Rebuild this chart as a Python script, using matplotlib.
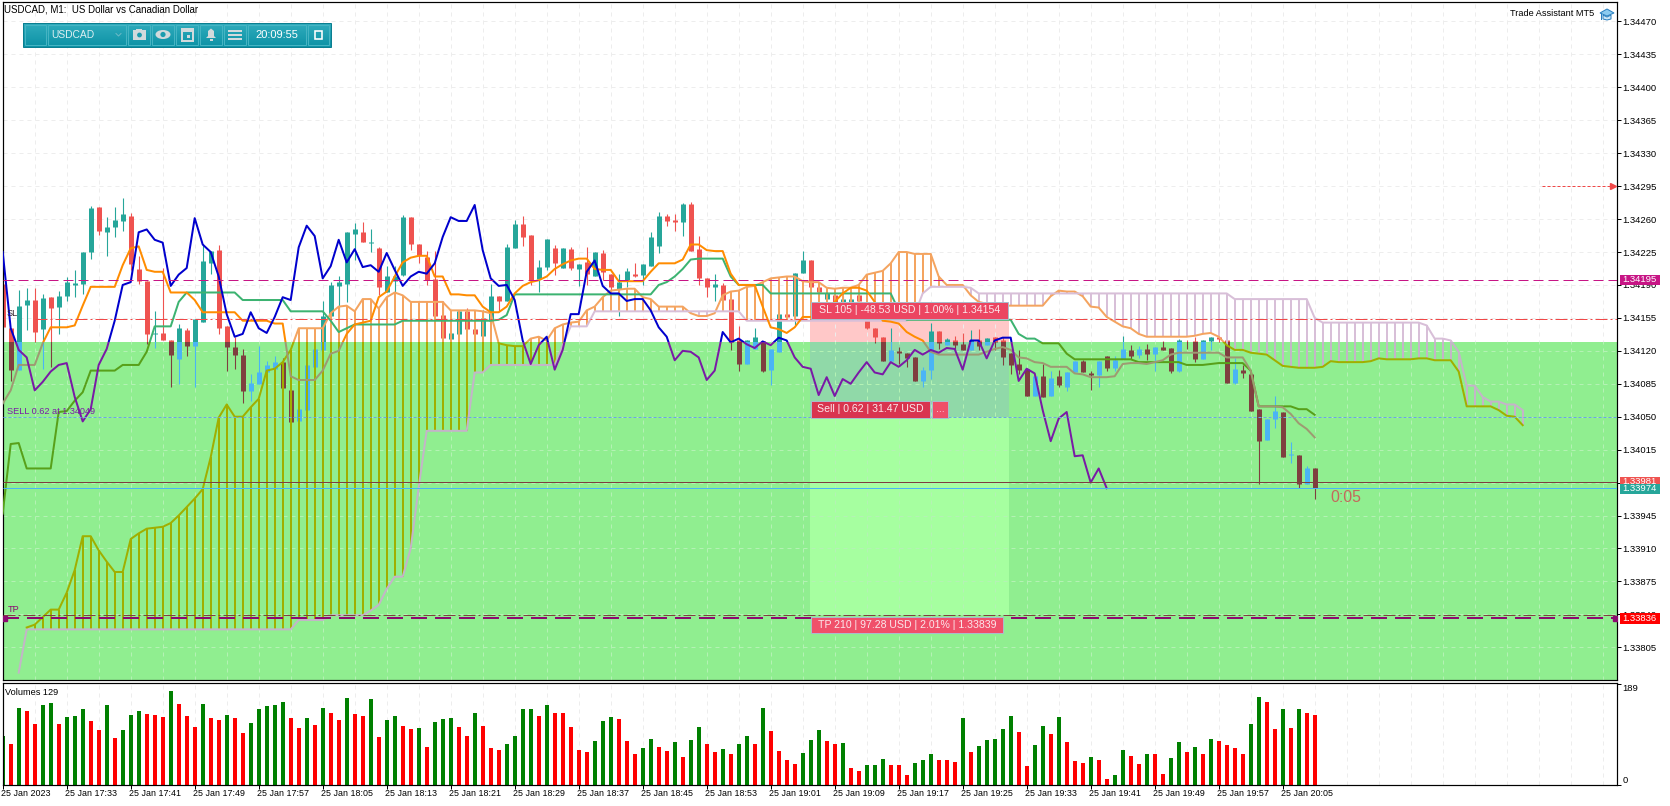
# -*- coding: utf-8 -*-
"""USDCAD M1 terminal screenshot: candles, Ichimoku, trade zones, volumes."""

import numpy as np
import matplotlib
matplotlib.use('Agg')
import matplotlib.pyplot as plt
from matplotlib.patches import Rectangle, Polygon, Ellipse, Circle
from matplotlib.transforms import ScaledTranslation

plt.rcParams['font.family'] = ['Liberation Sans', 'DejaVu Sans']

# All prices below are points above 1.34000 (1 point = 0.00001)
open_pts = [191, 144, 100, 169, 174, 143, 177, 167, 178, 190,
            191, 225, 273, 246, 252, 258, 263, 207, 194, 138,
            139, 132, 111, 142, 125, 151, 213, 227, 146, 124,
            116, 77, 85, 97, 101, 108, 78, 45, 57, 103,
            121, 157, 189, 191, 244, 246, 235, 229, 183, 194,
            201, 262, 233, 220, 196, 158, 133, 138, 162, 143,
            136, 152, 178, 173, 229, 255, 243, 196, 209, 229,
            208, 228, 207, 214, 200, 224, 202, 186, 195, 202,
            201, 210, 231, 263, 259, 257, 276, 228, 197, 188,
            190, 175, 131, 106, 122, 130, 100, 119, 159, 157,
            203, 217, 188, 175, 179, 172, 171, 179, 154, 144,
            135, 109, 120, 118, 113, 88, 100, 141, 126, 132,
            127, 121, 131, 126, 135, 131, 118, 106, 101, 72,
            93, 72, 93, 82, 97, 109, 96, 94, 114, 102,
            111, 121, 116, 122, 117, 124, 123, 99, 132, 130,
            111, 130, 135, 132, 86, 100, 95, 58, 25, 48,
            55, 9, 9, -22, -4]
high_pts = [191, 144, 185, 187, 187, 180, 177, 184, 198, 206,
            225, 274, 273, 262, 273, 282, 266, 221, 194, 162,
            208, 132, 149, 144, 154, 233, 226, 232, 146, 135,
            122, 95, 125, 109, 115, 112, 78, 58, 105, 122,
            173, 193, 200, 246, 256, 257, 249, 230, 210, 210,
            264, 262, 233, 226, 226, 173, 139, 162, 165, 143,
            163, 191, 178, 233, 259, 263, 243, 216, 239, 232,
            229, 230, 212, 230, 225, 227, 202, 202, 208, 213,
            212, 246, 268, 265, 265, 277, 278, 242, 197, 202,
            192, 175, 146, 131, 144, 130, 122, 159, 159, 203,
            226, 217, 188, 181, 179, 178, 176, 180, 154, 144,
            135, 144, 124, 118, 113, 103, 150, 141, 134, 136,
            139, 142, 143, 134, 135, 135, 118, 121, 101, 93,
            106, 99, 100, 97, 109, 110, 99, 109, 114, 114,
            136, 126, 125, 127, 124, 130, 123, 133, 132, 135,
            132, 135, 135, 132, 112, 105, 95, 58, 48, 72,
            55, 23, 9, -2, -4]
low_pts = [145, 88, 100, 142, 129, 101, 103, 138, 173, 177,
           180, 218, 243, 221, 241, 247, 206, 191, 127, 123,
           131, 82, 85, 114, 82, 151, 202, 138, 99, 101,
           65, 67, 85, 97, 100, 80, 44, 45, 57, 103,
           121, 157, 157, 172, 216, 236, 225, 179, 183, 183,
           199, 227, 213, 190, 157, 134, 133, 138, 142, 138,
           136, 152, 162, 173, 229, 231, 190, 182, 206, 201,
           208, 206, 189, 190, 200, 195, 182, 157, 188, 198,
           190, 210, 224, 253, 247, 242, 226, 190, 177, 173,
           174, 121, 99, 106, 122, 98, 84, 119, 156, 147,
           203, 188, 179, 175, 172, 172, 171, 173, 143, 128,
           109, 109, 106, 103, 88, 82, 90, 122, 126, 121,
           121, 121, 121, 126, 121, 105, 95, 95, 72, 72,
           71, 72, 82, 77, 97, 97, 78, 82, 99, 99,
           111, 111, 112, 110, 99, 121, 96, 98, 122, 108,
           111, 121, 129, 86, 85, 91, 56, -21, 25, 38,
           7, 1, -26, -22, -37]
close_pts = [145, 100, 168, 174, 140, 176, 165, 178, 193, 192,
             225, 272, 247, 252, 259, 265, 212, 194, 138, 139,
             131, 116, 144, 125, 154, 215, 226, 144, 124, 116,
             77, 86, 97, 105, 108, 80, 44, 58, 105, 122,
             157, 190, 193, 246, 249, 236, 236, 188, 200, 200,
             262, 233, 222, 195, 157, 134, 139, 162, 143, 138,
             155, 178, 173, 230, 255, 241, 195, 209, 239, 213,
             229, 208, 212, 202, 225, 204, 188, 193, 205, 200,
             212, 241, 263, 258, 257, 276, 226, 197, 188, 191,
             174, 129, 106, 131, 135, 99, 122, 159, 156, 203,
             217, 188, 182, 181, 172, 175, 175, 173, 144, 135,
             109, 121, 118, 112, 88, 100, 141, 128, 133, 126,
             121, 131, 125, 134, 129, 113, 105, 100, 72, 93,
             71, 91, 84, 97, 109, 97, 94, 109, 102, 110,
             122, 115, 122, 117, 124, 121, 99, 132, 131, 111,
             132, 135, 133, 86, 101, 96, 56, 24, 48, 56,
             7, 10, -21, -4, -26]

tenkan_pts = [64, 78, 105, 105, 105, 128, 145, 145, 145, 147,
              168, 188, 188, 188, 188, 211, 229, 231, 206, 204,
              204, 182, 182, 182, 174, 161, 161, 161, 161, 161,
              152, 152, 152, 152, 149, 149, 93, 89, 89, 89,
              99, 117, 120, 138, 148, 150, 152, 177, 183, 199,
              214, 219, 221, 221, 199, 199, 180, 180, 179, 179,
              167, 161, 161, 167, 181, 189, 193, 195, 199, 207,
              212, 216, 218, 218, 207, 206, 206, 194, 194, 194,
              194, 204, 213, 213, 213, 217, 233, 233, 227, 226,
              226, 202, 190, 190, 190, 167, 145, 143, 139, 145,
              156, 156, 156, 156, 172, 181, 187, 187, 184, 172,
              152, 151, 149, 140, 135, 131, 119, 116, 116, 116,
              116, 116, 116, 119, 122, 124, 121, 113, 112, 108,
              107, 103, 103, 103, 96, 95, 92, 92, 92, 93,
              106, 107, 107, 106, 108, 110, 116, 118, 118, 118,
              118, 118, 118, 113, 113, 113, 99, 61, 61, 61,
              60, 53, 43, 37, 28]
kijun_pts = [-53, 21, 22, -5, -5, -5, -5, 55, 56, 67,
             76, 99, 99, 99, 99, 105, 105, 105, 119, 146,
             146, 146, 172, 182, 182, 182, 182, 182, 182, 182,
             174, 174, 174, 174, 174, 174, 162, 162, 162, 162,
             162, 152, 140, 144, 148, 148, 148, 148, 148, 148,
             152, 152, 152, 152, 152, 152, 152, 152, 152, 152,
             152, 152, 153, 158, 180, 180, 180, 180, 180, 180,
             180, 180, 180, 180, 180, 180, 180, 180, 180, 180,
             180, 180, 190, 193, 199, 207, 217, 218, 218, 218,
             218, 199, 190, 190, 190, 190, 181, 181, 181, 181,
             181, 181, 181, 181, 181, 181, 181, 181, 181, 181,
             181, 181, 163, 153, 153, 153, 153, 153, 153, 153,
             153, 153, 153, 153, 153, 153, 153, 138, 133, 133,
             128, 128, 128, 117, 111, 111, 111, 111, 111, 111,
             111, 111, 108, 108, 108, 108, 108, 108, 105, 105,
             105, 106, 107, 107, 107, 107, 99, 61, 61, 61,
             61, 61, 58, 58, 52]
chikou_pts = [225, 144, 121, 113, 78, 87, 98, 105, 107, 71,
              45, 58, 105, 122, 152, 190, 193, 246, 249, 238,
              235, 189, 201, 208, 261, 233, 225, 199, 159, 135,
              138, 161, 144, 139, 156, 177, 174, 230, 253, 242,
              197, 210, 238, 214, 228, 209, 211, 204, 224, 206,
              189, 199, 204, 202, 213, 241, 262, 258, 258, 275,
              227, 197, 189, 190, 174, 131, 106, 126, 135, 100,
              121, 159, 159, 204, 216, 189, 181, 181, 173, 175,
              175, 163, 145, 135, 110, 120, 119, 113, 89, 99,
              140, 129, 133, 127, 123, 130, 126, 134, 131, 113,
              103, 101, 73, 92, 72, 90, 85, 97, 108, 97,
              95, 108, 103, 110, 121, 116, 121, 118, 123, 122,
              100, 131, 131, 112, 131, 134, 134, 88, 101, 96,
              57, 24, 48, 55, 8, 9, -20, -5, -26]
# Senkou span A starts at bar 3, span B at bar 2; both run 26 bars past the last candle
span_a_pts = [-174, -171, -163, -155, -155, -137, -113,
              -77, -77, -92, -104, -115, -115, -80, -74, -69, -68,
              -67, -63, -55, -46, -37, -27, 7, 49, 63, 50,
              50, 60, 69, 99, 101, 108, 121, 144, 144, 144,
              144, 160, 167, 168, 162, 175, 175, 165, 177, 182,
              179, 172, 172, 172, 172, 172, 163, 163, 163, 163,
              162, 160, 128, 126, 125, 125, 133, 135, 131, 144,
              148, 150, 151, 163, 167, 177, 184, 185, 186, 186,
              177, 175, 167, 167, 167, 167, 160, 157, 157, 160,
              179, 183, 184, 188, 189, 193, 197, 198, 199, 199,
              194, 193, 193, 187, 186, 187, 187, 190, 201, 203,
              205, 213, 225, 225, 223, 223, 223, 199, 190, 190,
              190, 179, 172, 170, 168, 168, 168, 168, 168, 168,
              168, 178, 184, 183, 183, 178, 167, 166, 156, 151,
              146, 144, 138, 135, 135, 135, 135, 135, 135, 136,
              138, 139, 135, 126, 121, 121, 118, 117, 116, 110,
              104, 103, 102, 102, 102, 103, 109, 108, 108, 108,
              108, 109, 112, 111, 111, 111, 111, 112, 112, 110,
              110, 110, 98, 61, 61, 61, 61, 57, 51, 50, 41]
span_b_pts = ([-222] + [-176] * 34 + [-166] * 4 + [-161] * 5
              + [-156, -150, -133, -120, -120, -90, -25]
              + [35] * 6 + [97, 97] + [105] * 9 + [126] + [146] * 3
              + [162] * 19 + [152] * 21 + [159, 181] + [188] * 5 + [187]
              + [181] * 32 + [175] * 10 + [155] + [150] * 13
              + [147, 133, 133, 131, 119, 83, 83, 71, 66, 66, 63, 63, 57])

volumes = [92, 77, 144, 139, 114, 150, 154, 114, 127, 129,
           142, 120, 103, 150, 88, 103, 131, 139, 133, 131,
           127, 176, 152, 129, 109, 152, 126, 122, 131, 126,
           98, 116, 142, 148, 150, 155, 126, 107, 126, 113,
           144, 135, 122, 163, 133, 129, 161, 90, 122, 129,
           111, 105, 107, 71, 118, 124, 126, 109, 92, 135,
           111, 70, 66, 77, 92, 142, 142, 129, 150, 135,
           135, 109, 66, 62, 83, 120, 127, 124, 83, 58,
           70, 86, 71, 64, 81, 53, 85, 109,
           77, 62, 68, 58, 77, 92, 77, 144, 101, 64,
           47, 40, 60, 85, 103, 83, 77, 79, 32, 27,
           38, 38, 49, 38, 38, 19, 42, 47, 58, 47,
           47, 44, 126, 62, 73, 85, 86, 105, 129, 99,
           36, 75, 111, 96, 127, 81, 45, 42, 53, 47,
           12, 19, 66, 55, 40, 58, 58, 21, 51, 81,
           62, 71, 58, 86, 83, 75, 70, 58, 114, 165,
           155, 105, 142, 107, 142, 135, 131]
volume_dirs = ('GRGRRGGRGG' 'GRRGRGGGRR' 'RGRRRGRRGR' 'RGGGGGRRGR' 'GRRGRRGRGG'
               'RRGRGGGRRG' 'RRRGGGGRGR' 'RRRRGGGRRR' 'GGRRGRGG'
               'RRGRGGRGRR' 'RRGGGRRGRR' 'GGGRRRGGGR' 'RRGRGGGGGR' 'RGGRGRRRGR'
               'RGGRRGRRGG' 'RGRGRRRRGG' 'RRGRGRR')

price_ticks = [470, 435, 400, 365, 330, 295, 260, 225, 190, 155, 120, 85, 50, 15,
               -20, -55, -90, -125, -160, -195]
date_labels = ['25 Jan 2023', '25 Jan 17:33', '25 Jan 17:41', '25 Jan 17:49', '25 Jan 17:57',
               '25 Jan 18:05', '25 Jan 18:13', '25 Jan 18:21', '25 Jan 18:29', '25 Jan 18:37',
               '25 Jan 18:45', '25 Jan 18:53', '25 Jan 19:01', '25 Jan 19:09', '25 Jan 19:17',
               '25 Jan 19:25', '25 Jan 19:33', '25 Jan 19:41', '25 Jan 19:49', '25 Jan 19:57',
               '25 Jan 20:05']

# trade levels, points above 1.34000
zone_top_pts = 129
entry_pts = 50
sl_pts = 154
tp_pts = -161
tp_line_pts = -164
magenta_pts = 195
ask_pts = -19
bid_pts = -26
alert_pts = 295

# colours: normal one, and the one it turns into under the green rectangle
RED, RED_G = '#EF5350', '#7F3F3F'
TEAL, TEAL_G = '#26A69A', '#4AB4F5'
ORANGE, ORANGE_G = '#FF8C00', '#9E9A72'
SEA, SEA_G = '#3CB371', '#58A01A'
BLUE, BLUE_G = '#0000CD', '#7A1AA6'
SANDY, SANDY_G = '#F4A460', '#A0AF00'
THISTLE, THISTLE_G = '#D8BFD8', '#C4B4C8'
GRID, GRID_G = '#EDEDED', '#B4F2B4'
PX = 0.72  # 1 pixel in points at dpi 100


def pts2price(v):
    return 1.34 + np.asarray(v, dtype=float) * 1e-5


W, H = 1670, 806
fig = plt.figure(figsize=(W / 100, H / 100), dpi=100)
ax = fig.add_axes([2.5 / W, 1 - 680 / H, (1617 - 2.5) / W, (680 - 2) / H])
vax = fig.add_axes([2.5 / W, 1 - 785.3 / H, (1617 - 2.5) / W, (785.3 - 682.7) / H])

XMIN, XMAX = -0.025, 201.79
YMIN, YMAX = 1.337702, 1.344907
ax.set_xlim(XMIN, XMAX)
ax.set_ylim(YMIN, YMAX)
zone_top = pts2price(zone_top_pts)

clip_up = Rectangle((XMIN, zone_top), XMAX - XMIN, YMAX - zone_top, transform=ax.transData)
clip_low = Rectangle((XMIN, YMIN), XMAX - XMIN, zone_top - YMIN, transform=ax.transData)


def two_tone(draw, color_up, color_low):
    # draw once per colour, each one clipped to its side of the green rectangle edge
    for color, clip in ((color_up, clip_up), (color_low, clip_low)):
        art = draw(color)
        for a in (art if isinstance(art, list) else [art]):
            a.set_clip_path(clip)


def level(y, x0=XMIN, x1=XMAX, **kw):
    # 1 px level lines, snapped so they stay crisp
    coll = ax.hlines(pts2price(y), x0, x1, **kw)
    coll.set_snap(True)
    return coll


# ---- background zones ----
ax.add_patch(Rectangle((XMIN, YMIN), XMAX - XMIN, zone_top - YMIN, color='#90EE90', lw=0, zorder=0.5))
t0, t1 = 100.9, 125.8
entry, sl, tp = pts2price(entry_pts), pts2price(sl_pts), pts2price(-161)
ax.add_patch(Rectangle((t0, zone_top), t1 - t0, sl - zone_top, color='#FFC8C8', lw=0, zorder=0.6))
ax.add_patch(Rectangle((t0, entry), t1 - t0, zone_top - entry, color='#90D9A8', lw=0, zorder=0.6))
ax.add_patch(Rectangle((t0, tp), t1 - t0, entry - tp, color='#A6FFA0', lw=0, zorder=0.6))

# ---- grid ----
grid_x = np.arange(0, 202, 4)
grid_y = pts2price(price_ticks)
dash = (0, (4, 4))
two_tone(lambda c: ax.vlines(grid_x, YMIN, YMAX, colors=c, lw=PX, linestyles=[dash], zorder=1), GRID, GRID_G)
two_tone(lambda c: ax.hlines(grid_y, XMIN, XMAX, colors=c, lw=PX, linestyles=[dash], zorder=1), GRID, GRID_G)

# ---- candles ----
x = np.arange(len(open_pts))
o, h, l, c = map(pts2price, (open_pts, high_pts, low_pts, close_pts))
up = c >= o
for mask, col, col_g in ((up, TEAL, TEAL_G), (~up, RED, RED_G)):
    two_tone(lambda k: ax.vlines(x[mask], l[mask], h[mask], colors=k, lw=PX * 1.1, zorder=2), col, col_g)
    two_tone(lambda k: ax.vlines(x[mask], np.minimum(o, c)[mask], np.maximum(o, c)[mask],
                                 colors=k, lw=PX * 5, zorder=2.1, capstyle='butt'), col, col_g)

# ---- ichimoku ----
span_a = pts2price(span_a_pts)
span_b = pts2price(span_b_pts)
xa = np.arange(3, 3 + len(span_a))
xb = np.arange(2, 2 + len(span_b))
b_on_a = span_b[1:]  # span B from bar 3 onwards, same bars as span A
above = span_a >= b_on_a
two_tone(lambda k: ax.vlines(xa[above], b_on_a[above], span_a[above], colors=k, lw=PX * 2, zorder=3,
                             capstyle='butt'), SANDY, SANDY_G)
two_tone(lambda k: ax.vlines(xa[~above], span_a[~above], b_on_a[~above], colors=k, lw=PX * 2, zorder=3,
                             capstyle='butt'), THISTLE, THISTLE_G)


def draw_line(xs, ys, col, col_g, z):
    two_tone(lambda k: ax.plot(xs, ys, color=k, lw=PX * 2, zorder=z, solid_joinstyle='round'), col, col_g)


draw_line(xa, span_a, SANDY, SANDY_G, 3.1)
draw_line(xb, span_b, THISTLE, THISTLE_G, 3.1)
draw_line(x, pts2price(tenkan_pts), ORANGE, ORANGE_G, 3.4)
draw_line(x, pts2price(kijun_pts), SEA, SEA_G, 3.3)
draw_line(np.arange(len(chikou_pts)), pts2price(chikou_pts), BLUE, BLUE_G, 3.5)

# ---- level lines ----
level(magenta_pts, colors='#C71585', lw=PX, linestyles=[(0, (10, 5))], zorder=4)
level(sl_pts, x0=4, colors='#F04848', lw=PX, linestyles=[(0, (12, 3, 2, 3))], zorder=4)
level(entry_pts, colors='#6AA5E5', lw=PX, linestyles=[(0, (3, 2))], zorder=4)
level(ask_pts, colors=RED_G, lw=PX, zorder=4)
level(bid_pts, colors=TEAL_G, lw=PX, zorder=4)
level(tp_pts, colors=RED_G, lw=PX, linestyles=[(0, (12, 3, 2, 3))], zorder=4)
level(tp_line_pts, colors='#8B0A70', lw=PX * 2, linestyles=[(0, (8, 4))], zorder=4.1)
ax.plot([192.4, 201.4], [pts2price(alert_pts)] * 2, color='#F04848', lw=PX, ls=(0, (3, 2)), zorder=4)
ax.plot([201.3], [pts2price(alert_pts)], marker='>', ms=4.5, color='#F04848', zorder=4)
ax.plot([0.15, 201.6], [pts2price(tp_line_pts)] * 2, ls='', marker='s', ms=3.6, color='#8B0A70', zorder=4.2)

# ---- axes furniture ----
ax.set_xticks([])
ax.yaxis.tick_right()
ax.set_yticks(grid_y)
ax.set_yticklabels(['%.5f' % v for v in grid_y])
ax.tick_params(axis='y', length=3, width=PX, pad=1, labelsize=6.8, colors='black')
for s in ax.spines.values():
    s.set_linewidth(PX * 1.2)

# ---- volume panel ----
vax.set_xlim(XMIN, XMAX)
vax.set_ylim(0, 191.5)
vol_x = np.arange(len(volumes))
vol_col = ['#008000' if d == 'G' else '#FF0000' for d in volume_dirs]
vax.vlines(grid_x, 0, 191.5, colors=GRID, lw=PX, linestyles=[dash], zorder=0.5)
vax.bar(vol_x, volumes, width=0.5, color=vol_col, lw=0, zorder=2)
vax.yaxis.tick_right()
vax.set_yticks([0, 189])
vax.set_yticklabels(['0', '189'])
vax.get_yticklabels()[1].set_verticalalignment('top')
vax.get_yticklabels()[0].set_verticalalignment('bottom')
date_x = np.arange(len(date_labels)) * 8
vax.set_xticks(date_x)
vax.set_xticklabels(date_labels, ha='left')
vax.tick_params(axis='y', length=3, width=PX, pad=1, labelsize=6.8)
vax.tick_params(axis='x', length=3, width=PX, pad=1, labelsize=6.4)
nudge = ScaledTranslation(-2 / 100, 1.5 / 100, fig.dpi_scale_trans)
for lab in vax.get_xticklabels():
    lab.set_transform(lab.get_transform() + nudge)
for s in vax.spines.values():
    s.set_linewidth(PX * 1.2)

# ---- overlay in pixel coordinates: labels, toolbar, icons ----
ov = fig.add_axes([0, 0, 1, 1], facecolor='none')
ov.set_xlim(0, W)
ov.set_ylim(H, 0)
ov.axis('off')


def price_box(y, text, col):
    ov.add_patch(Rectangle((1620, y - 5), 39.5, 10.5, color=col, lw=0))
    ov.text(1639.5, y + 0.2, text, color='white', fontsize=6.8, ha='center', va='center')


price_box(279.5, '1.34195', '#C71585')
price_box(481.5, '1.33981', RED)
price_box(488.5, '1.33974', TEAL)
price_box(618, '1.33836', '#FF0000')


def trade_label(x0, y0, x1, y1, text, col, fs=7.6):
    ov.add_patch(Rectangle((x0, y0), x1 - x0, y1 - y0, facecolor=col, edgecolor='#A9BCCB', lw=PX))
    ov.text((x0 + x1) / 2, (y0 + y1) / 2 + 0.2, text, color='#FBE8EC', fontsize=fs, ha='center', va='center')


trade_label(810.5, 301.5, 1008, 318.5, 'SL 105 | -48.53 USD | 1.00% | 1.34154', '#EC4561')
trade_label(811, 401, 930, 417.5, 'Sell | 0.62 | 31.47 USD', '#D9344F')
trade_label(932, 401, 948, 417.5, '...', '#EF4E68')
trade_label(810.5, 616.5, 1003, 633, 'TP 210 | 97.28 USD | 2.01% | 1.33839', '#F0506A')

ov.text(4.5, 9.5, 'USDCAD, M1:  US Dollar vs Canadian Dollar', fontsize=7, va='center')
ov.text(1594, 14, 'Trade Assistant MT5', fontsize=6.6, ha='right', va='center')
ov.text(7, 313, 'SL', fontsize=6.6, va='center', color='#30202a', clip_on=False)
ov.text(7, 411.5, 'SELL 0.62 at 1.34049', fontsize=6.6, va='center', color='#7A1AA6')
ov.text(8, 609.5, 'TP', fontsize=6.6, va='center', color='#8B0A70')
ov.text(5, 692.5, 'Volumes 129', fontsize=6.6, va='center')
ov.text(1330, 497, '0:05', fontsize=11.4, va='center', color='#C4685C')

# graduation cap
ov.add_patch(Polygon([(1600, 13), (1607, 9), (1614, 13), (1607, 16)], facecolor='#8CCBF0', edgecolor='#2A7FBF', lw=PX))
ov.add_patch(Polygon([(1603, 15), (1603, 19), (1607, 20), (1611, 19), (1611, 15), (1607, 17)],
                     facecolor='#CFE8F8', edgecolor='#2A7FBF', lw=PX))
ov.plot([1601, 1601], [13, 19], color='#2A7FBF', lw=PX)

# toolbar
grad = np.linspace(0, 1, 24)[:, None, None] * (np.array([13, 146, 165]) - np.array([48, 172, 188])) + np.array([48, 172, 188])
ov.imshow(grad.astype(np.uint8), extent=(23, 331, 47, 23), aspect='auto', zorder=5)
ov.set_xlim(0, W)
ov.set_ylim(H, 0)
ov.add_patch(Rectangle((23, 23), 308, 24, fill=False, edgecolor='#0B7E90', lw=PX, zorder=6))
for x0, x1 in ((25, 46), (48, 126), (128, 150), (152, 174), (176, 198), (200, 222),
               (224, 246), (248, 306), (308, 329)):
    ov.add_patch(Rectangle((x0, 25), x1 - x0, 20, fill=False, edgecolor='#45B4C3', lw=PX, zorder=6))
ICON = '#D2DADC'
ov.text(51, 35, 'USDCAD', color='#DDEFF2', fontsize=7.4, va='center', zorder=7)
ov.plot([116, 118.5, 121], [33.5, 36, 33.5], color='#6CBAC6', lw=PX, zorder=7)
ov.text(277, 35, '20:09:55', color='white', fontsize=8, ha='center', va='center', zorder=7)
# camera
ov.add_patch(Rectangle((133, 30), 13, 10, color=ICON, lw=0, zorder=7))
ov.add_patch(Rectangle((136, 28.5), 6, 2, color=ICON, lw=0, zorder=7))
ov.add_patch(Circle((139.5, 35), 2.4, color='#1C9CAE', lw=0, zorder=8))
# eye
ov.add_patch(Ellipse((163, 34.5), 15, 9, color=ICON, lw=0, zorder=7))
ov.add_patch(Circle((163, 34.5), 2.6, color='#1C9CAE', lw=0, zorder=8))
# calendar
ov.add_patch(Rectangle((181.5, 28.5), 11, 12, facecolor='none', edgecolor=ICON, lw=PX * 2, zorder=7))
ov.add_patch(Rectangle((181.5, 28.5), 11, 3, color=ICON, lw=0, zorder=7))
ov.add_patch(Rectangle((187, 35), 3, 3, color=ICON, lw=0, zorder=7))
# bell
ov.add_patch(Polygon([(206, 38), (208, 36), (208, 31), (211, 28.5), (214, 31), (214, 36), (216, 38)],
                     color=ICON, lw=0, zorder=7))
ov.add_patch(Rectangle((209.5, 38.5), 3, 2, color=ICON, lw=0, zorder=7))
# menu
for yy in (30.5, 34.5, 38.5):
    ov.plot([229, 241], [yy, yy], color=ICON, lw=PX * 2, zorder=7)
# window
ov.add_patch(Rectangle((314.5, 31), 7.5, 7.5, facecolor='none', edgecolor='white', lw=PX * 1.6, zorder=7))

assert len(open_pts) == len(high_pts) == len(low_pts) == len(close_pts) == 165
assert len(tenkan_pts) == len(kijun_pts) == len(volumes) == len(volume_dirs) == 165
assert len(span_a) == 188 and len(span_b) == 189 and len(chikou_pts) == 139

fig.savefig('out.png', dpi=100)
